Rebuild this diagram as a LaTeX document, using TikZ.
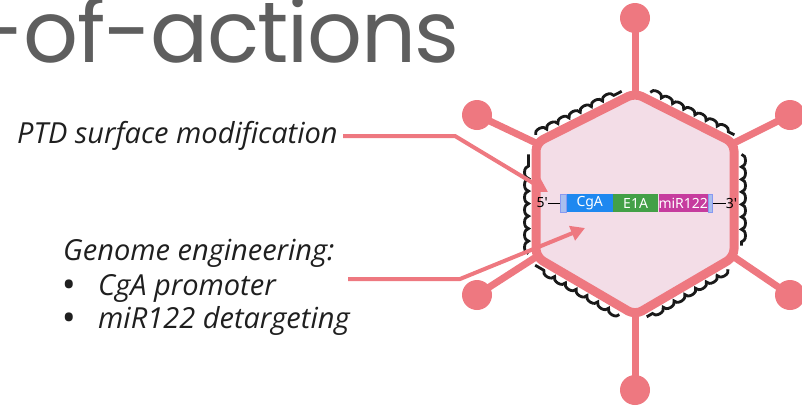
\documentclass[tikz,border=0pt]{standalone}
\usepackage{fontspec}
\usetikzlibrary{positioning,calc,arrows.meta,decorations.pathmorphing}

\newfontfamily\titlefont{Poppins}[LetterSpace=-1.6]
\newfontfamily\labelfont{Open Sans}
\newfontfamily\genefont{Noto Sans}

\definecolor{capsid}{HTML}{EE7880}
\definecolor{capsidfill}{HTML}{F3DDE7}
\definecolor{titlegray}{HTML}{5E5E5E}
\definecolor{labelgray}{HTML}{1F1F1F}
\definecolor{cgablue}{HTML}{1E88F0}
\definecolor{eonegreen}{HTML}{43A047}
\definecolor{mirpink}{HTML}{C63C9E}
\definecolor{capblue}{HTML}{A9BFEE}

\begin{document}
\begin{tikzpicture}[x=1pt, y=-1pt,
  shell/.style = {draw=capsid, fill=capsidfill, line width=9pt, rounded corners=8pt},
  spike/.style = {draw=capsid, line width=7pt},
  knob/.style = {circle, fill=capsid, minimum size=30pt, inner sep=0pt},
  coat/.style = {draw=black!90, line width=2.8pt,
                 decorate, decoration={bumps, segment length=25pt, amplitude=4pt}},
  callout/.style = {draw=capsid, line width=4pt, -{Triangle[length=14pt,width=15pt]}},
  label/.style = {text=labelgray, inner sep=0pt,
                  font=\labelfont\itshape\fontsize{29}{29}\selectfont},
  bullet/.style = {text=labelgray, inner sep=0pt,
                   font=\genefont\fontsize{36}{36}\selectfont},
  gene/.style = {rectangle, minimum height=18pt, inner sep=0pt, text=white,
                 font=\genefont\fontsize{14}{14}\selectfont},
  prime/.style = {inner sep=0pt, font=\genefont\fontsize{14}{14}\selectfont},
  ]
  \useasboundingbox (0,0) rectangle (802,408);
  \clip (0,0) rectangle (802,408);

  % title, cut at the left edge
  \node[anchor=base east, inner sep=0pt, text=titlegray,
        font=\titlefont\fontsize{86}{86}\selectfont] (title) at (460,62) {-of-actions};

  % capsid corners
  \coordinate (top) at (635,93);
  \coordinate (ur)  at (734,143);
  \coordinate (lr)  at (734,257);
  \coordinate (bot) at (635,315);
  \coordinate (ll)  at (536,257);
  \coordinate (ul)  at (536,143);

  % fibres with their knobs
  \node[knob] (ktop) at (635,18) {};
  \node[knob] (kur)  at (790,115) {};
  \node[knob] (klr)  at (790,295) {};
  \node[knob] (kbot) at (635,390) {};
  \node[knob] (kll)  at (477,295) {};
  \node[knob] (kul)  at (477,115) {};
  \foreach \v/\k in {top/ktop, ur/kur, lr/klr, bot/kbot, ll/kll, ul/kul}
    \draw[spike] (\v) -- (\k.center);

  \draw[shell] (ul) -- (top) -- (ur) -- (lr) -- (bot) -- (ll) -- cycle;

  % wavy coat along the faces
  \foreach \a/\b/\s/\e in {ul/top/0.03/0.90, top/ur/0.12/0.97, ur/lr/0.10/0.90,
                           lr/bot/0.10/0.92, bot/ll/0.12/0.97, ll/ul/0.03/0.90}
    \draw[coat] ($(\a)!\s!(\b)!7.5pt!90:(\b)$) -- ($(\a)!\e!(\b)!7.5pt!-90:(\a)$);

  % transgene cassette
  \node[gene, fill=capblue, draw=capblue!80!blue, line width=0.5pt,
        minimum width=6pt, anchor=west] (cap5) at (560,203) {};
  \node[gene, fill=cgablue, minimum width=46pt, right=0pt of cap5] (cga) {CgA};
  \node[gene, fill=eonegreen, minimum width=45pt, right=0pt of cga] (eone) {E1A};
  \node[gene, fill=mirpink, minimum width=48pt, right=0pt of eone] (mir) {miR122};
  \node[gene, fill=capblue, draw=capblue!80!blue, line width=0.5pt,
        minimum width=4pt, right=0pt of mir] (cap3) {};
  \node[prime, left=12pt of cap5] (five) {5'};
  \node[prime, right=13pt of cap3] (three) {3'};
  \draw[line width=0.8pt] (five) -- (cap5);
  \draw[line width=0.8pt] (cap3) -- (three);

  % labels
  \node[label, anchor=base west] (ptd) at (17,143) {PTD surface modification};
  \node[label, anchor=base west] (genome) at (63,260) {Genome engineering:};
  \node[bullet, anchor=base west] (dot1) at (62,297) {•};
  \node[label, anchor=base west] (cgaprom) at (98,295) {CgA promoter};
  \node[bullet, anchor=base west] (dot2) at (62,330) {•};
  \node[label, anchor=base west] (mirdet) at (98,328) {miR122 detargeting};

  % callouts
  \coordinate (ptdstart) at (343,136);
  \coordinate (ptdbend)  at (455,136);
  \coordinate (ptdtip)   at (548,192);
  \draw[callout] (ptdstart) -- (ptdbend) -- (ptdtip);
  \coordinate (genstart) at (348,279);
  \coordinate (genbend)  at (460,279);
  \coordinate (gentip)   at (585,228);
  \draw[callout] (genstart) -- (genbend) -- (gentip);
\end{tikzpicture}
\end{document}
